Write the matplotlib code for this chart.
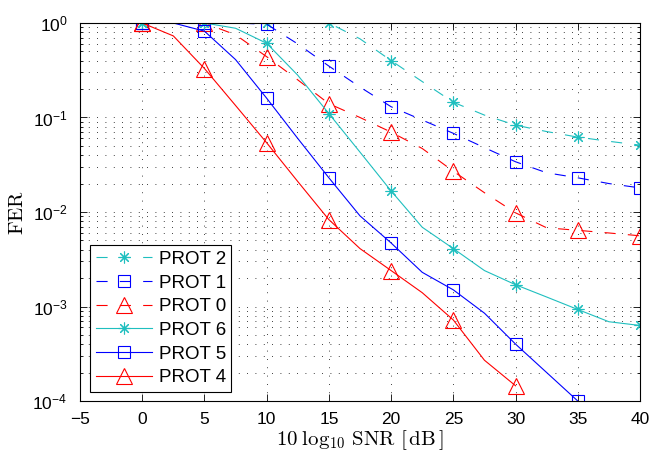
import numpy as np
import matplotlib
matplotlib.use("Agg")
import matplotlib.pyplot as plt
from matplotlib.ticker import FixedLocator, FuncFormatter, LogLocator, NullFormatter

plt.rcParams['font.family'] = ['Liberation Sans', 'DejaVu Sans']
plt.rcParams['mathtext.fontset'] = 'custom'
plt.rcParams['mathtext.rm'] = 'Liberation Sans'
plt.rcParams['mathtext.it'] = 'Liberation Sans:italic'
plt.rcParams['mathtext.bf'] = 'Liberation Sans:bold'

snr = [-5, -2.5, 0, 2.5, 5, 7.5, 10, 12.5, 15, 17.5, 20, 22.5, 25, 27.5, 30, 32.5, 35, 37.5, 40]

prot2 = [1, 1, 1, 1, 1, 1, 1, 1, 1, 0.68, 0.40, 0.24, 0.145, 0.106, 0.083, 0.071, 0.062, 0.056, 0.051]
prot1 = [1, 1, 1, 1, 1, 1, 0.97, 0.60, 0.35, 0.21, 0.13, 0.094, 0.068, 0.048, 0.034, 0.026, 0.023, 0.020, 0.018]
prot0 = [1, 1, 1, 1, 1, 0.75, 0.44, 0.25, 0.14, 0.10, 0.070, 0.047, 0.027, 0.016, 0.0098, 0.0068, 0.0064, 0.0060, 0.0056]
prot6 = [1, 1, 1, 1, 1, 0.88, 0.61, 0.28, 0.11, 0.043, 0.0167, 0.0069, 0.0041, 0.0024, 0.0017, 0.00126, 0.00093, 0.00069, 0.00063]
prot5 = [1, 1, 1, 1, 0.82, 0.41, 0.16, 0.060, 0.023, 0.0091, 0.0047, 0.0023, 0.0015, 0.00085, 0.00040, 0.00020, 0.00010, np.nan, np.nan]
prot4 = [1, 1, 1, 0.73, 0.33, 0.134, 0.054, 0.021, 0.0083, 0.0041, 0.0024, 0.0014, 0.00072, 0.00027, 0.000145, np.nan, np.nan, np.nan, np.nan]

labels = ['PROT 2', 'PROT 1', 'PROT 0', 'PROT 6', 'PROT 5', 'PROT 4']
series = [prot2, prot1, prot0, prot6, prot5, prot4]
colors = ['#1fbfbf', '#0000ff', '#ff0000', '#1fbfbf', '#0000ff', '#ff0000']
markers = [(8, 2, 0), 's', '^', (8, 2, 0), 's', '^']
msizes = [8.5, 8.5, 11, 8.5, 8.5, 11]
styles = ['dashed', 'dashed', 'dashed', 'solid', 'solid', 'solid']

xticks = [-5, 0, 5, 10, 15, 20, 25, 30, 35, 40]
yticks = [1e-4, 1e-3, 1e-2, 1e-1, 1e0]

fig = plt.figure(figsize=(6.53, 4.53), dpi=100)
ax = fig.add_axes([80/653, 52/453, 560/653, 378/453])

for y, lab, c, m, ms, ls in zip(series, labels, colors, markers, msizes, styles):
    line, = ax.semilogy(snr, y, color=c, marker=m, markersize=ms, markerfacecolor='none',
                        markeredgecolor=c, markeredgewidth=0.8, linewidth=0.8,
                        markevery=(2, 2), label=lab, clip_on=True)
    if ls == 'dashed':
        line.set_dashes([10, 11])

ax.set_xlim(-5, 40)
ax.set_ylim(1e-4, 1)
ax.xaxis.set_major_locator(FixedLocator(xticks))
ax.yaxis.set_major_locator(FixedLocator(yticks))
ax.yaxis.set_minor_locator(LogLocator(base=10, subs=np.arange(2, 10)))
ax.yaxis.set_minor_formatter(NullFormatter())
ax.xaxis.set_major_formatter(FuncFormatter(lambda v, p: ('\u2212%d' % -v) if v < 0 else '%d' % v))
ax.yaxis.set_major_formatter(FuncFormatter(lambda v, p: r'$10^{%d}$' % int(round(np.log10(v)))))

ax.tick_params(axis='both', which='both', direction='in', top=True, right=True, labelsize=12.5, width=0.6)
ax.tick_params(which='major', length=5)
ax.tick_params(which='minor', length=2.5)
ax.tick_params(axis='x', which='major', pad=8)
ax.tick_params(axis='y', which='major', pad=9)
ax.grid(True, which='major', linestyle=(0, (1, 9)), color='black', linewidth=0.6)
ax.grid(True, which='minor', axis='y', linestyle=(0, (1, 9)), color='black', linewidth=0.6)
for s in ax.spines.values():
    s.set_linewidth(0.8)

ax.set_xlabel(r'$10\;\log_{10}\,\mathrm{SNR}\ [\,\mathrm{dB}\,]$', fontsize=15, math_fontfamily='cm', labelpad=1)
ax.set_ylabel(r'$\mathrm{FER}$', fontsize=15, math_fontfamily='cm', labelpad=4)

leg = ax.legend(loc='lower left', bbox_to_anchor=(0.018, 0.024), fontsize=13.5, handlelength=3.0,
                fancybox=False, edgecolor='black', framealpha=1, borderaxespad=0,
                labelspacing=0.35, handletextpad=0.35, borderpad=0.3)
leg.get_frame().set_linewidth(0.8)

fig.savefig('out.png', dpi=100)
